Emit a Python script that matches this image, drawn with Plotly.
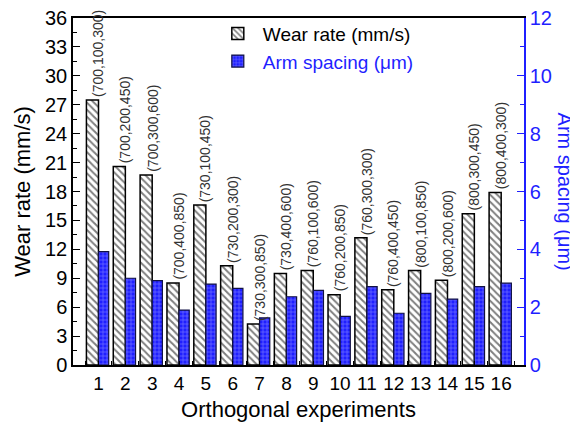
import plotly.graph_objects as go

categories = list(range(1, 17))
wear_rate = [27.5, 20.6, 19.7, 8.5, 16.6, 10.3, 4.25, 9.5, 9.8, 7.3, 13.2, 7.8, 9.8, 8.8, 15.7, 17.9]
arm_spacing = [3.92, 3.0, 2.92, 1.9, 2.8, 2.65, 1.63, 2.36, 2.58, 1.68, 2.71, 1.79, 2.48, 2.28, 2.71, 2.83]
bar_labels = ["(700,100,300)", "(700,200,450)", "(700,300,600)", "(700,400,850)",
              "(730,100,450)", "(730,200,300)", "(730,300,850)", "(730,400,600)",
              "(760,100,600)", "(760,200,850)", "(760,300,300)", "(760,400,450)",
              "(800,100,850)", "(800,200,600)", "(800,300,450)", "(800,400,300)"]

FONT = "Liberation Sans, Arial, sans-serif"
BLUE = "#1f1fff"

fig = go.Figure()
fig.add_bar(
    x=categories, y=wear_rate, name="Wear rate (mm/s)", yaxis="y",
    offset=-0.45, width=0.45,
    marker=dict(color="white", line=dict(color="black", width=1.5),
                pattern=dict(shape="\\", fgcolor="black", bgcolor="white", size=5, solidity=0.4)),
)
fig.add_bar(
    x=categories, y=arm_spacing, name="<span style='color:#1f1fff'>Arm spacing (μm)</span>", yaxis="y2",
    offset=0, width=0.38,
    marker=dict(color=BLUE, line=dict(color="#111144", width=1.2),
                pattern=dict(shape="+", fgcolor="#c8c8ff", bgcolor=BLUE, size=4, solidity=0.3)),
)

for c, w, lab in zip(categories, wear_rate, bar_labels):
    fig.add_annotation(x=c, y=w, xref="x", yref="y", text=lab, textangle=-90,
                       showarrow=False, yanchor="bottom", xanchor="center", yshift=1,
                       font=dict(family=FONT, size=14, color="#333333"))

fig.add_annotation(x=1.093, y=0.5, xref="paper", yref="paper", text="Arm spacing (μm)",
                   textangle=90, showarrow=False, xanchor="center", yanchor="middle",
                   font=dict(family=FONT, size=20, color=BLUE))

# page body has an 8px default margin, so the figure is 8px smaller and margins shifted
fig.update_layout(
    width=570, height=418,
    margin=dict(l=65, r=54, t=10, b=61, autoexpand=False),
    paper_bgcolor="white", plot_bgcolor="white",
    font=dict(family=FONT, color="black"),
    showlegend=True,
    legend=dict(x=0.31, y=1.01, xanchor="left", yanchor="top", bgcolor="rgba(0,0,0,0)",
                font=dict(size=19), tracegroupgap=0, itemwidth=40),
    xaxis=dict(range=[0.05, 16.85], tickmode="linear", tick0=1, dtick=1, automargin=False,
               ticks="inside", ticklen=4, tickcolor="black", showgrid=False, zeroline=False,
               showline=True, linecolor="black", linewidth=1.5, mirror=True,
               tickfont=dict(size=19), ticklabeloverflow="allow",
               minor=dict(tick0=0.5, dtick=1, ticks="inside", ticklen=4, tickcolor="black"),
               title=dict(text="Orthogonal experiments", font=dict(size=22), standoff=9)),
    yaxis=dict(range=[0, 36], tickmode="linear", tick0=0, dtick=3, automargin=False,
               ticks="inside", ticklen=7, tickcolor="black", showgrid=False, zeroline=False,
               showline=True, linecolor="black", linewidth=1.5,
               tickfont=dict(size=20), ticklabeloverflow="allow",
               minor=dict(dtick=1.5, ticks="inside", ticklen=4, tickcolor="black"),
               title=dict(text="Wear rate (mm/s)", font=dict(size=22), standoff=8)),
    yaxis2=dict(range=[0, 12], overlaying="y", side="right", tickmode="linear", tick0=0, dtick=2,
                automargin=False,
                ticks="inside", ticklen=7, tickcolor=BLUE, showgrid=False, zeroline=False,
                showline=True, linecolor=BLUE, linewidth=1.5,
                tickfont=dict(size=20, color=BLUE), ticklabeloverflow="allow",
                minor=dict(dtick=1, ticks="inside", ticklen=4, tickcolor=BLUE)),
)

fig.write_html("out.html")
